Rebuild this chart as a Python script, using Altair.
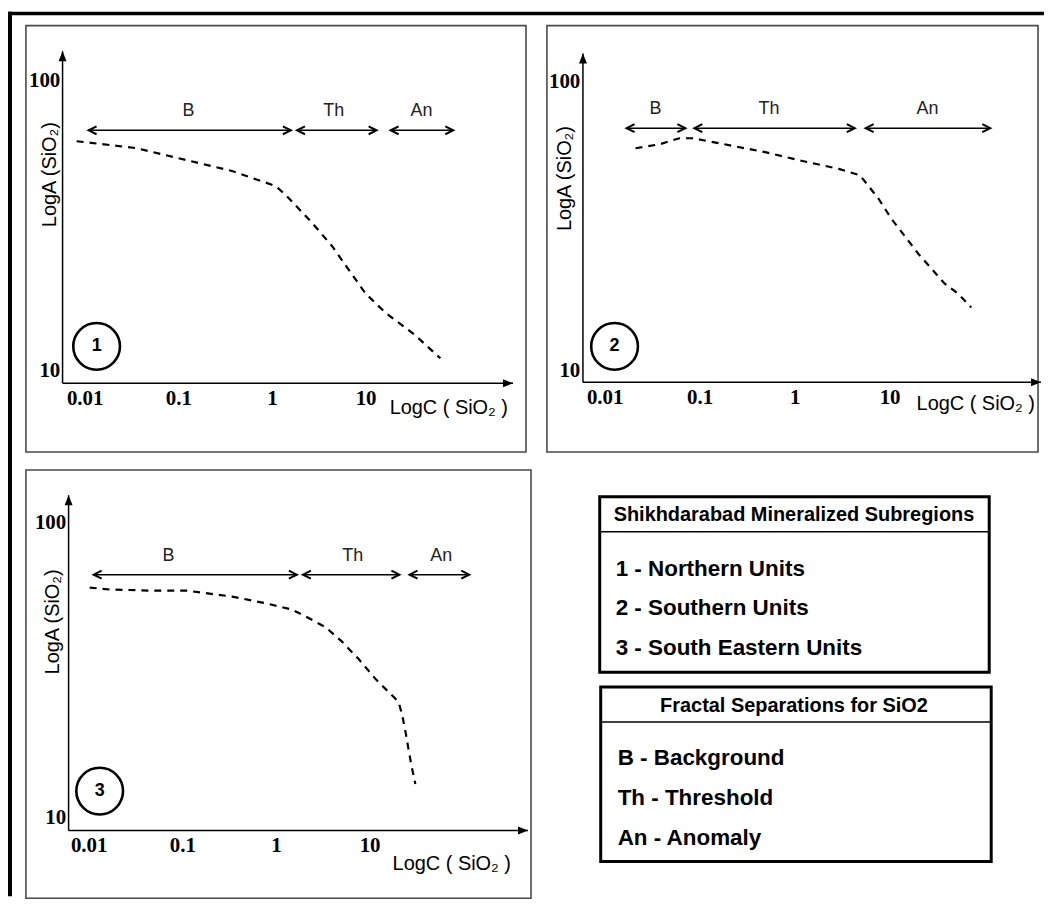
import altair as alt
import pandas as pd

# ---------------- data ----------------
X_TICKS = [0.01, 0.1, 1, 10]
Y_TICKS = [10, 100]
X_TITLE = "LogC ( SiO₂ )"
Y_TITLE = "LogA (SiO₂)"
ZONE_NAMES = ["B", "Th", "An"]

# Panel 1 - Northern Units
P1_CURVE_C = [0.0082, 0.0357, 0.122, 0.375, 1.10, 1.44, 2.67, 4.35, 7.10, 10.0, 16.3, 34.0, 62.8]
P1_CURVE_A = [61.7, 58.4, 53.1, 48.7, 43.2, 39.9, 32.3, 26.9, 21.5, 18.4, 15.8, 13.2, 11.0]
P1_ZONE_START = [0.0110, 1.85, 18.5]
P1_ZONE_END = [1.59, 13.1, 86.3]
P1_ZONE_LEVEL = 67.3
P1_ZONE_LABEL_C = [0.128, 4.57, 39.4]
P1_MARKER = [0.0134, 12.1]
P1_X_DOMAIN = [0.002356, 516.2]
P1_Y_DOMAIN = [5.226, 154.5]
P1_AXIS_C = [0.0058, 375.0]
P1_AXIS_A = [9.02, 126.0]

# Panel 2 - Southern Units
P2_CURVE_C = [0.0211, 0.0378, 0.0612, 0.0838, 0.161, 0.489, 1.11, 1.94, 2.92, 4.84,
              6.02, 7.67, 10.5, 14.4, 20.1, 27.6, 37.8, 52.9, 72.4]
P2_CURVE_A = [58.7, 60.6, 63.6, 63.6, 61.1, 56.9, 53.4, 51.3, 49.8, 47.4,
              43.4, 39.2, 33.4, 29.2, 25.3, 22.5, 20.0, 18.4, 16.5]
P2_ZONE_START = [0.0170, 0.0879, 5.60]
P2_ZONE_END = [0.0707, 4.30, 114.8]
P2_ZONE_LEVEL = 68.9
P2_ZONE_LABEL_C = [0.0343, 0.538, 25.1]
P2_MARKER = [0.0127, 12.1]
P2_X_DOMAIN = [0.002463, 365.6]
P2_Y_DOMAIN = [5.215, 156.0]
P2_AXIS_C = [0.0059, 393.0]
P2_AXIS_A = [9.09, 125.0]

# Panel 3 - South Eastern Units
P3_CURVE_C = [0.01025, 0.0167, 0.0446, 0.110, 0.341, 0.783, 1.48, 2.08, 3.40, 5.04,
              7.64, 11.6, 15.9, 20.4, 22.4, 24.2, 26.0, 28.0, 30.8]
P3_CURVE_A = [60.3, 59.4, 58.9, 58.9, 56.2, 53.3, 50.8, 48.1, 44.2, 39.6,
              34.5, 29.5, 26.7, 24.7, 22.1, 19.5, 17.1, 15.0, 13.0]
P3_ZONE_START = [0.0113, 1.94, 26.7]
P3_ZONE_END = [1.67, 20.8, 115.8]
P3_ZONE_LEVEL = 66.7
P3_ZONE_LABEL_C = [0.0710, 6.59, 58.3]
P3_MARKER = [0.0131, 12.3]
P3_X_DOMAIN = [0.002137, 528.9]
P3_Y_DOMAIN = [5.326, 151.1]
P3_AXIS_C = [0.0061, 491.0]
P3_AXIS_A = [9.04, 124.0]

LEGEND1_HEADER = "Shikhdarabad Mineralized Subregions"
LEGEND1_ITEMS = ["1 - Northern Units", "2 - Southern Units", "3 - South Eastern Units"]
LEGEND2_HEADER = "Fractal Separations for SiO2"
LEGEND2_ITEMS = ["B - Background", "Th - Threshold", "An - Anomaly"]

# ---------------- styles ----------------
SANS = "Liberation Sans"
SERIF = "Liberation Serif"
ARROW_RIGHT = "M-2,-0.8L0,0L-2,0.8Z"
ARROW_UP = "M-0.8,2L0,0L0.8,2Z"
CHEV_LEFT = "M2,-1L0,0L2,1"
CHEV_RIGHT = "M-2,-1L0,0L-2,1"


def panel(num, cc, ca, zs, ze, zlevel, zlab, marker, xdom, ydom, axc, axa,
          w, h, off_left, off_bottom, ytitle_pos, xtitle_pos):
    xs = alt.Scale(type="log", domain=xdom, nice=False)
    ys = alt.Scale(type="log", domain=ydom, nice=False)
    xaxis = alt.Axis(values=X_TICKS, format="~g", offset=off_bottom, title=X_TITLE,
                     titleX=xtitle_pos[0], titleY=xtitle_pos[1], titleAlign="center",
                     titleBaseline="middle", titleAngle=0, labelPadding=4)
    yaxis = alt.Axis(values=Y_TICKS, format="~g", offset=off_left, title=Y_TITLE,
                     titleX=ytitle_pos[0], titleY=ytitle_pos[1], titleAlign="center",
                     titleBaseline="middle", titleAngle=270, labelPadding=3)

    def X(f):
        return alt.X(f, scale=xs, axis=xaxis)

    def Y(f):
        return alt.Y(f, scale=ys, axis=yaxis)

    curve = alt.Chart(pd.DataFrame({"c": cc, "a": ca})).mark_line(
        color="black", strokeWidth=2.2, strokeDash=[7, 6], clip=False
    ).encode(x=X("c:Q"), y=Y("a:Q"))

    axdf = pd.DataFrame({"c0": [axc[0]], "c1": [axc[1]], "a0": [axa[0]], "a1": [axa[1]]})
    ab = alt.Chart(axdf)
    xline = ab.mark_rule(color="black", strokeWidth=1.5, clip=False).encode(
        x=X("c0:Q"), x2="c1:Q", y=Y("a0:Q"))
    yline = ab.mark_rule(color="black", strokeWidth=1.5, clip=False).encode(
        x=X("c0:Q"), y=Y("a0:Q"), y2="a1:Q")
    xhead = ab.mark_point(shape=ARROW_RIGHT, filled=True, size=100, color="black",
                          opacity=1, clip=False).encode(x=X("c1:Q"), y=Y("a0:Q"))
    yhead = ab.mark_point(shape=ARROW_UP, filled=True, size=100, color="black",
                          opacity=1, clip=False).encode(x=X("c0:Q"), y=Y("a1:Q"))

    zdf = pd.DataFrame({"s": zs, "e": ze, "lv": [zlevel] * len(zs), "lc": zlab, "name": ZONE_NAMES})
    zb = alt.Chart(zdf)
    zrule = zb.mark_rule(color="black", strokeWidth=1.5, clip=False).encode(
        x=X("s:Q"), x2="e:Q", y=Y("lv:Q"))
    zl = zb.mark_point(shape=CHEV_LEFT, filled=False, size=64, color="black", opacity=1,
                       strokeWidth=2, clip=False).encode(x=X("s:Q"), y=Y("lv:Q"))
    zr = zb.mark_point(shape=CHEV_RIGHT, filled=False, size=64, color="black", opacity=1,
                       strokeWidth=2, clip=False).encode(x=X("e:Q"), y=Y("lv:Q"))
    ztext = zb.mark_text(dy=-19, font=SANS, fontSize=18, color="#222", clip=False).encode(
        x=X("lc:Q"), y=Y("lv:Q"), text="name:N")

    mdf = pd.DataFrame({"c": [marker[0]], "a": [marker[1]], "n": [str(num)]})
    mb = alt.Chart(mdf)
    circ = mb.mark_point(shape="circle", size=2200, filled=False, strokeWidth=2.6,
                         color="black", opacity=1, clip=False).encode(x=X("c:Q"), y=Y("a:Q"))
    ctext = mb.mark_text(font=SANS, fontSize=18, fontWeight="bold", color="black",
                         clip=False).encode(x=X("c:Q"), y=Y("a:Q"), text="n:N")

    layers = [curve, xline, yline, xhead, yhead, zrule, zl, zr, ztext, circ, ctext]
    return alt.layer(*layers).properties(
        width=w, height=h, view=alt.ViewBackground(stroke="#4a4a4a", strokeWidth=1.6))


def legend_panel():
    one = alt.Chart(pd.DataFrame({"h1": [LEGEND1_HEADER], "h2": [LEGEND2_HEADER]}))
    box_style = dict(fillOpacity=0, stroke="black", strokeWidth=3)
    box1 = one.mark_rect(**box_style).encode(
        x=alt.value(53), x2=alt.value(444), y=alt.value(27), y2=alt.value(203))
    box2 = one.mark_rect(**box_style).encode(
        x=alt.value(54), x2=alt.value(446), y=alt.value(218), y2=alt.value(393))
    sep1 = one.mark_rule(color="black", strokeWidth=1.5).encode(
        x=alt.value(53), x2=alt.value(444), y=alt.value(62))
    sep2 = one.mark_rule(color="black", strokeWidth=1.5).encode(
        x=alt.value(54), x2=alt.value(446), y=alt.value(253))
    head_style = dict(font=SANS, fontSize=20, fontWeight="bold", color="black",
                      align="center", baseline="middle")
    head1 = one.mark_text(**head_style).encode(x=alt.value(248), y=alt.value(45), text="h1:N")
    head2 = one.mark_text(**head_style).encode(x=alt.value(248), y=alt.value(237), text="h2:N")

    item_style = dict(font=SANS, fontSize=22.5, fontWeight="bold", color="black",
                      align="left", baseline="middle")
    it1 = alt.Chart(pd.DataFrame({"t": LEGEND1_ITEMS})).mark_text(**item_style).encode(
        x=alt.value(69),
        y=alt.Y("t:N", sort=None, axis=None, scale=alt.Scale(range=[99, 179], padding=0)),
        text="t:N")
    it2 = alt.Chart(pd.DataFrame({"u": LEGEND2_ITEMS})).mark_text(**item_style).encode(
        x=alt.value(71),
        y=alt.Y("u:N", sort=None, axis=None, scale=alt.Scale(range=[289, 370], padding=0)),
        text="u:N")

    # thick outer frame of the whole figure (top and left edges), as filled bars;
    # this cell sits 523 px right of and 446 px below the first panel
    frame_left = one.mark_rect(color="black", clip=False).encode(
        x=alt.value(-541), x2=alt.value(-537), y=alt.value(-460), y2=alt.value(428))
    frame_top = one.mark_rect(color="black", clip=False).encode(
        x=alt.value(-541), x2=alt.value(499), y=alt.value(-460), y2=alt.value(-456.5))

    return alt.layer(frame_left, frame_top, box1, box2, sep1, sep2, head1, head2, it1, it2
                     ).resolve_scale(y="independent").properties(
        width=450, height=400, view=alt.ViewBackground(strokeOpacity=0))


p1 = panel(1, P1_CURVE_C, P1_CURVE_A, P1_ZONE_START, P1_ZONE_END, P1_ZONE_LEVEL, P1_ZONE_LABEL_C,
           P1_MARKER, P1_X_DOMAIN, P1_Y_DOMAIN, P1_AXIS_C, P1_AXIS_A,
           502, 428, -37, -69, (-13, 149), (424, 24))
p2 = panel(2, P2_CURVE_C, P2_CURVE_A, P2_ZONE_START, P2_ZONE_END, P2_ZONE_LEVEL, P2_ZONE_LABEL_C,
           P2_MARKER, P2_X_DOMAIN, P2_Y_DOMAIN, P2_AXIS_C, P2_AXIS_A,
           493, 428, -36, -70, (-18, 153), (430, 21))
p3 = panel(3, P3_CURVE_C, P3_CURVE_A, P3_ZONE_START, P3_ZONE_END, P3_ZONE_LEVEL, P3_ZONE_LABEL_C,
           P3_MARKER, P3_X_DOMAIN, P3_Y_DOMAIN, P3_AXIS_C, P3_AXIS_A,
           507, 430, -43, -68, (-16, 152), (427, 33))

legend = legend_panel()

chart = alt.concat(
    p1, p2, p3, legend, columns=2, align="none", bounds="flush",
    spacing={"row": 18, "column": 16},
).properties(
    padding={"left": 0, "top": 2, "right": 0, "bottom": 0},
    background="white",
).configure_view(
    stroke="transparent"
).configure_axis(
    domain=False, ticks=False, tickSize=0, grid=False,
    labelFont=SERIF, labelFontSize=21, labelFontWeight="bold", labelColor="black",
    labelFlush=False, labelOverlap=False, labelBound=False,
    titleFont=SANS, titleFontSize=20, titleFontWeight="normal", titleColor="black",
)

chart.save("out.html", embed_options={"renderer": "svg", "actions": False})
